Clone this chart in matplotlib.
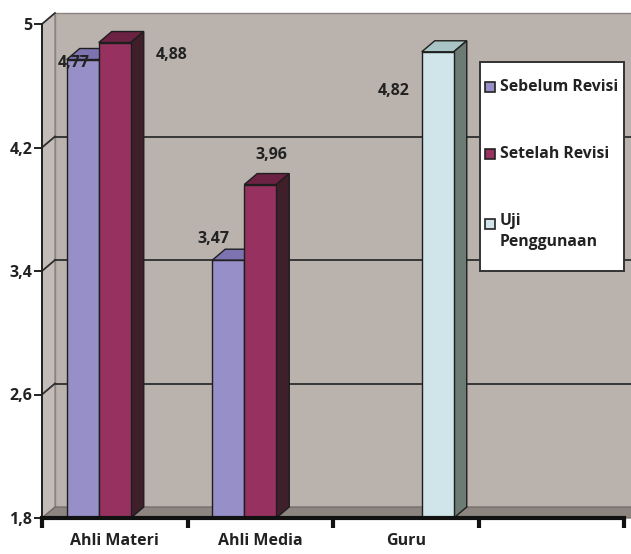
import matplotlib
matplotlib.use('Agg')
import matplotlib.pyplot as plt
from matplotlib.patches import Polygon, Rectangle

# ---------------- data ----------------
categories = ['Ahli Materi', 'Ahli Media', 'Guru', '']
series_names = ['Sebelum Revisi', 'Setelah Revisi', 'Uji\nPenggunaan']
sebelum_revisi = [4.77, 3.47, None, None]
setelah_revisi = [4.88, 3.96, None, None]
uji_penggunaan = [None, None, 4.82, None]
y_ticks = [1.8, 2.6, 3.4, 4.2, 5.0]
y_tick_labels = ['1,8', '2,6', '3,4', '4,2', '5']

series_values = [sebelum_revisi, setelah_revisi, uji_penggunaan]

# ---------------- style ----------------
FONT = ['Open Sans', 'DejaVu Sans']
FS_X = 11.5
FS_Y = 11.5
FS_VAL = 11.5
FS_LEG = 11.3
TXT = '#222222'
front_cols = ['#978fc7', '#97315f', '#cfe5e9']
top_cols = ['#7c73b0', '#6c2243', '#a9c4c4']
side_cols = ['#5a5188', '#3f1f2a', '#6d7b75']
edge = '#1e1e1e'
wall_back = '#bab2ad'
wall_left = '#c3bcb8'
floor_col = '#8d8580'
grid_col = '#2e2e2e'
# label offsets in pixels (dx, dy) relative to bar top centre
label_offsets = [
    [(-9, -3), (-15, 21), None, None],
    [(57, -12), (11, 30), None, None],
    [None, None, (-44, -39), None],
]

W, H = 631, 554
fig = plt.figure(figsize=(W / 100, H / 100), dpi=100)
fig.patch.set_facecolor('white')
ax = fig.add_axes([42 / W, 36 / H, 582 / W, 494 / H])
ax.set_xlim(-0.5, 3.5)
ax.set_ylim(1.8, 5.0)
ax.set_facecolor('none')

px_x = 582 / 4.0      # pixels per category unit
px_y = 494 / 3.2      # pixels per value unit
dxd = 13 / px_x
dyd = 11 / px_y
ymin, ymax = 1.8, 5.0
xl, xr = -0.5, 3.5

# back wall
ax.add_patch(Rectangle((xl + dxd, ymin + dyd), (xr - xl) + 0.2, ymax - ymin,
                       facecolor=wall_back, edgecolor='#8a8480', lw=1.0,
                       clip_on=False, zorder=0))
# left wall
ax.add_patch(Polygon([(xl, ymin), (xl, ymax), (xl + dxd, ymax + dyd), (xl + dxd, ymin + dyd)],
                     closed=True, facecolor=wall_left, edgecolor='#8a8480', lw=1.0,
                     clip_on=False, zorder=0.5))
# floor
ax.add_patch(Polygon([(xl, ymin), (xr + 0.05, ymin), (xr + 0.05 + dxd, ymin + dyd), (xl + dxd, ymin + dyd)],
                     closed=True, facecolor=floor_col, edgecolor='#6e6762', lw=0.8,
                     clip_on=False, zorder=0.6))

# gridlines on walls
for v in y_ticks[1:-1]:
    ax.plot([xl + dxd, xr + 0.3], [v + dyd, v + dyd], color=grid_col, lw=1.3,
            clip_on=False, zorder=0.7)
    ax.plot([xl, xl + dxd], [v, v + dyd], color=grid_col, lw=1.3, clip_on=False, zorder=0.7)
ax.plot([xl, xl + dxd], [ymax, ymax + dyd], color=grid_col, lw=1.2, clip_on=False, zorder=0.7)

# bars
w = 0.22
for i, vals in enumerate(series_values):
    off = (i - 1) * w
    for j, v in enumerate(vals):
        if v is None:
            continue
        x0 = j + off - w / 2
        z = 2 + i
        ax.bar(j + off, v - ymin, bottom=ymin, width=w, color=front_cols[i],
               edgecolor=edge, lw=1.0, zorder=z + 0.2)
        ax.add_patch(Polygon([(x0, v), (x0 + w, v), (x0 + w + dxd, v + dyd), (x0 + dxd, v + dyd)],
                             closed=True, facecolor=top_cols[i], edgecolor=edge, lw=1.0,
                             clip_on=False, zorder=z))
        ax.add_patch(Polygon([(x0 + w, ymin), (x0 + w, v), (x0 + w + dxd, v + dyd), (x0 + w + dxd, ymin + dyd)],
                             closed=True, facecolor=side_cols[i], edgecolor=edge, lw=1.0,
                             clip_on=False, zorder=z))
        dx, dy = label_offsets[i][j]
        ax.annotate(f'{v:.2f}'.replace('.', ','), xy=(j + off, v), xytext=(dx, dy),
                    textcoords='offset pixels', ha='center', va='center',
                    fontsize=FS_VAL, fontweight='bold', color=TXT, family=FONT,
                    zorder=10, annotation_clip=False)

# axes
for s in ['top', 'right']:
    ax.spines[s].set_visible(False)
ax.spines['left'].set_color('#222222')
ax.spines['left'].set_linewidth(1.4)
ax.spines['bottom'].set_color('#111111')
ax.spines['bottom'].set_linewidth(3)
ax.spines['bottom'].set_zorder(8)
ax.spines['left'].set_zorder(8)
ax.set_yticks(y_ticks)
ax.set_yticklabels(y_tick_labels)
ax.tick_params(axis='y', length=6, width=1.4, color='#222222', pad=1)
ax.set_xticks([k - 0.5 for k in range(len(categories) + 1)])
ax.set_xticklabels([])
ax.tick_params(axis='x', which='major', length=7, width=3, color='#111111')
ax.set_xticks(range(len(categories)), minor=True)
ax.set_xticklabels(categories, minor=True)
ax.tick_params(axis='x', which='minor', length=0, pad=11)
for lab in ax.get_yticklabels():
    lab.set_fontfamily(FONT)
    lab.set_fontweight('bold')
    lab.set_fontsize(FS_Y)
    lab.set_color(TXT)
for lab in ax.get_xticklabels(minor=True):
    lab.set_fontfamily(FONT)
    lab.set_fontweight('bold')
    lab.set_fontsize(FS_X)
    lab.set_color(TXT)

# legend (manual, figure pixel coordinates from top-left)
def fx(x):
    return x / W

def fy(y):
    return 1 - y / H

fig.patches.append(Rectangle((fx(480), fy(271)), 144 / W, 209 / H, transform=fig.transFigure,
                             facecolor='white', edgecolor='#333333', lw=1.4, zorder=20))
legend_rows = [87, 154, 224]
for i, name in enumerate(series_names):
    yc = legend_rows[i]
    fig.patches.append(Rectangle((fx(485), fy(yc + 5)), 10 / W, 10 / H, transform=fig.transFigure,
                                 facecolor=front_cols[i], edgecolor='#222222', lw=1.2, zorder=21))
    if '\n' in name:
        fig.text(fx(500), fy(yc - 11), name, ha='left', va='top', fontsize=FS_LEG,
                 fontweight='bold', color=TXT, family=FONT, zorder=22, linespacing=1.45)
    else:
        fig.text(fx(500), fy(yc), name, ha='left', va='center', fontsize=FS_LEG,
                 fontweight='bold', color=TXT, family=FONT, zorder=22)

fig.savefig('out.png', dpi=100, facecolor='white')
